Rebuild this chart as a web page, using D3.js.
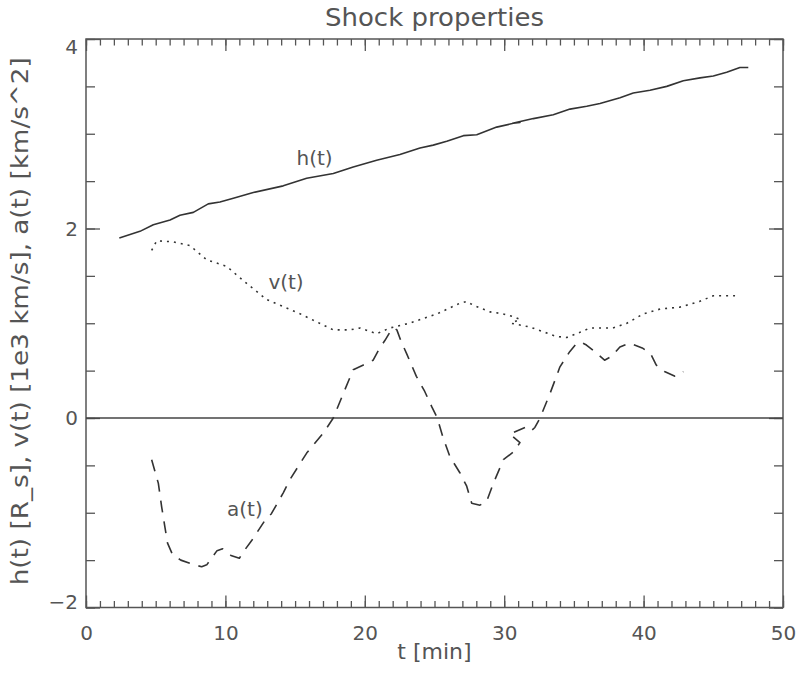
<!DOCTYPE html>
<html>
<head>
<meta charset="utf-8">
<script src="https://cdn.jsdelivr.net/npm/d3@7"></script>
<style>
    body { margin: 0; background: #fff; }
    svg text { font-family: 'DejaVu Sans', sans-serif; fill: #555; }
</style>
</head>
<body>
<svg id="chart" width="798" height="675"></svg>
<script>
//
// DATA
//
const hT = [2.39, 3.87, 4.83, 6.03, 6.74, 7.7, 8.77, 9.61, 10.57, 12.0, 14.15, 15.83, 17.74, 19.17, 20.85, 22.52, 23.96, 24.91, 25.88, 27.07, 28.03, 29.46, 30.65, 31.13, 30.6, 32.09, 33.52, 34.72, 35.92, 36.87, 38.31, 39.26, 40.46, 41.66, 42.85, 44.05, 45.0, 45.96, 46.91, 47.51]
const hV = [1.9, 1.97, 2.04, 2.09, 2.14, 2.17, 2.26, 2.28, 2.32, 2.38, 2.45, 2.53, 2.58, 2.65, 2.72, 2.78, 2.85, 2.88, 2.92, 2.98, 2.99, 3.07, 3.11, 3.12, 3.11, 3.16, 3.2, 3.26, 3.29, 3.32, 3.38, 3.43, 3.46, 3.5, 3.56, 3.59, 3.61, 3.65, 3.7, 3.7]

const vT = [4.71, 5.07, 6.2, 7.46, 8.66, 10.09, 11.53, 12.96, 15.35, 17.74, 18.94, 19.66, 20.85, 21.8, 23.2, 25.2, 26.8, 27.3, 27.8, 28.98, 29.9, 30.65, 31.13, 30.5, 31.85, 32.8, 33.76, 34.5, 35.2, 36.15, 37.8, 38.8, 40.0, 41.2, 42.6, 44.0, 45.0, 46.56]
const vV = [1.77, 1.87, 1.86, 1.82, 1.67, 1.6, 1.42, 1.25, 1.1, 0.93, 0.93, 0.95, 0.89, 0.95, 1.0, 1.1, 1.21, 1.23, 1.19, 1.12, 1.1, 1.07, 1.04, 1.0, 0.96, 0.91, 0.86, 0.85, 0.89, 0.95, 0.95, 1.0, 1.1, 1.15, 1.17, 1.23, 1.29, 1.29]

const aT = [4.71, 5.19, 5.43, 5.67, 5.85, 6.2, 6.8, 7.8, 8.3, 8.66, 9.4, 9.8, 10.4, 11.0, 11.4, 11.9, 12.84, 13.3, 14.15, 14.63, 15.83, 17.02, 17.74, 18.46, 19.17, 19.9, 20.6, 21.0, 21.45, 21.9, 22.1, 22.3, 22.6, 23.0, 23.7, 24.3, 24.8, 25.2, 25.6, 26.11, 26.83, 27.31, 27.67, 28.26, 28.74, 29.22, 29.94, 30.65, 31.13, 30.4, 31.5, 31.9, 32.2, 32.57, 33.29, 34.0, 34.7, 35.2, 35.5, 35.9, 36.5, 37.2, 37.7, 38.3, 39.0, 39.9, 40.5, 40.9, 41.5, 42.25, 42.85]
const aV = [-0.44, -0.69, -0.94, -1.16, -1.32, -1.44, -1.5, -1.55, -1.57, -1.55, -1.4, -1.38, -1.45, -1.48, -1.39, -1.29, -1.08, -1.01, -0.79, -0.65, -0.37, -0.16, 0.0, 0.26, 0.51, 0.56, 0.61, 0.72, 0.82, 0.93, 0.95, 0.93, 0.81, 0.68, 0.44, 0.28, 0.12, 0.0, -0.2, -0.41, -0.58, -0.72, -0.9, -0.92, -0.88, -0.69, -0.44, -0.36, -0.26, -0.17, -0.1, -0.14, -0.1, 0.0, 0.26, 0.54, 0.7, 0.79, 0.8, 0.77, 0.7, 0.61, 0.65, 0.75, 0.79, 0.74, 0.68, 0.56, 0.49, 0.44, 0.49]

// curve labels: name, t, value (baseline)
const curveLabels = ['h(t)', 'v(t)', 'a(t)']
const labelT = [16.4, 14.35, 11.4]
const labelV = [2.67, 1.36, -1.03]

// axes
const xMajor = [0, 10, 20, 30, 40, 50]
const yMajor = [-2, 0, 2, 4]

//
// DRAW
//
const svg = d3.select('#chart')
const margin = { left: 86, right: 15, top: 39, bottom: 67.5 }
const W = 798 - margin.left - margin.right
const H = 675 - margin.top - margin.bottom

const x = d3.scaleLinear().domain([0, 50]).range([0, W])
const y = d3.scaleLinear().domain([-2, 4]).range([H, 0])

const g = svg.append('g').attr('transform', `translate(${margin.left},${margin.top})`)

// frame ticks: minor then major, on all four sides, pointing inward
const axisColor = '#555'
const addAxis = (axis, tr, labels) => {
    const a = g.append('g').attr('transform', tr).call(axis)
    a.select('.domain').remove()
    a.selectAll('line').attr('stroke', axisColor).attr('stroke-width', 1.3)
    if (!labels) a.selectAll('text').remove()
    return a
}
const xMinor = d3.range(0, 51, 1)
const yMinor = d3.range(-2, 4.01, 0.5)

addAxis(d3.axisBottom(x).tickValues(xMinor).tickSize(-6.5), `translate(0,${H})`, false)
addAxis(d3.axisTop(x).tickValues(xMinor).tickSize(-6.5), 'translate(0,0)', false)
addAxis(d3.axisLeft(y).tickValues(yMinor).tickSize(-9), 'translate(0,0)', false)
addAxis(d3.axisRight(y).tickValues(yMinor).tickSize(-9), `translate(${W},0)`, false)

const xAx = addAxis(d3.axisBottom(x).tickValues(xMajor).tickSize(-12).tickPadding(0), `translate(0,${H})`, true)
addAxis(d3.axisTop(x).tickValues(xMajor).tickSize(-12), 'translate(0,0)', false)
const yAx = addAxis(d3.axisLeft(y).tickValues(yMajor).tickSize(-14).tickPadding(0), 'translate(0,0)', true)
addAxis(d3.axisRight(y).tickValues(yMajor).tickSize(-14), `translate(${W},0)`, false)

xAx.selectAll('text')
    .attr('y', 32)
    .attr('dy', 0)
    .style('font-size', '20px')
    .attr('fill', '#555')
yAx.selectAll('text')
    .attr('x', -8)
    .attr('dy', '0.33em')
    .style('font-size', '20px')
    .attr('fill', '#555')
// the end labels sit inside the frame, as in the original
yAx.selectAll('text').filter(d => d === 4).attr('dy', '0.7em')
yAx.selectAll('text').filter(d => d === -2).attr('dy', '0.05em')
// minus sign like the original
yAx.selectAll('text').text(d => (d < 0 ? '\u2212' + Math.abs(d) : d))

// frame box
g.append('rect')
    .attr('width', W)
    .attr('height', H)
    .attr('fill', 'none')
    .attr('stroke', axisColor)
    .attr('stroke-width', 1.5)

// zero line
g.append('line')
    .attr('x1', x(0))
    .attr('x2', x(50))
    .attr('y1', y(0))
    .attr('y2', y(0))
    .attr('stroke', '#444')
    .attr('stroke-width', 1.5)

// curves
const line = d3.line().x(d => x(d[0])).y(d => y(d[1]))
const series = [
    { t: hT, v: hV, dash: null },
    { t: vT, v: vV, dash: '2,5' },
    { t: aT, v: aV, dash: '12,9' }
]
series.forEach(s => {
    g.append('path')
        .attr('d', line(s.t.map((t, i) => [t, s.v[i]])))
        .attr('fill', 'none')
        .attr('stroke', '#333')
        .attr('stroke-width', 1.6)
        .attr('stroke-linejoin', 'round')
        .attr('stroke-dasharray', s.dash)
})

// curve labels
g.selectAll('text.clabel')
    .data(curveLabels)
    .enter()
    .append('text')
    .attr('class', 'clabel')
    .attr('x', (d, i) => x(labelT[i]))
    .attr('y', (d, i) => y(labelV[i]))
    .attr('text-anchor', 'middle')
    .style('font-size', '20px')
    .text(d => d)

// title
svg.append('text')
    .attr('x', margin.left + W / 2)
    .attr('y', 26)
    .attr('text-anchor', 'middle')
    .attr('textLength', 219)
    .attr('lengthAdjust', 'spacingAndGlyphs')
    .style('font-size', '25px')
    .text('Shock properties')

// axis titles
svg.append('text')
    .attr('x', margin.left + W / 2)
    .attr('y', 659)
    .attr('text-anchor', 'middle')
    .style('font-size', '22px')
    .text('t [min]')

svg.append('text')
    .attr('transform', `translate(28,${margin.top + H / 2 - 2}) rotate(-90)`)
    .attr('text-anchor', 'middle')
    .attr('textLength', 528)
    .attr('lengthAdjust', 'spacingAndGlyphs')
    .style('font-size', '23px')
    .text('h(t) [R_s], v(t) [1e3 km/s], a(t) [km/s^2]')
</script>
</body>
</html>
